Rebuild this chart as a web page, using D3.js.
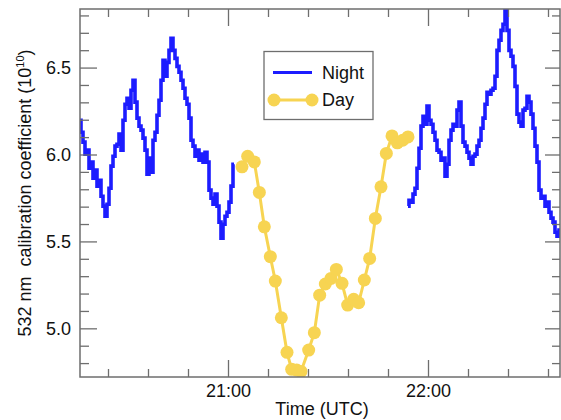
<!DOCTYPE html>
<html><head><meta charset="utf-8">
<script src="https://d3js.org/d3.v7.min.js"></script>
<style>
html,body{margin:0;padding:0;background:#fff;}
svg{display:block;font-family:"Liberation Sans",Arial,sans-serif;}
</style></head>
<body>
<script>
// Time in minutes after 20:00 UTC
const xDomain = [15.6, 159.6];
const yDomain = [4.72, 6.837];
const xMajorTicks = [60, 120];
const xMajorLabels = ["21:00", "22:00"];
const xMinorTicks = [24, 36, 48, 72, 84, 96, 108, 132, 144, 156];
const yMajorTicks = [5.0, 5.5, 6.0, 6.5];
const yMinorTicks = [4.8, 4.9, 5.1, 5.2, 5.3, 5.4, 5.6, 5.7, 5.8, 5.9, 6.1, 6.2, 6.3, 6.4, 6.6, 6.7, 6.8];

// Night series, segment 1 (sampled every 0.6 min from 15.6)
const night1Start = 15.6, nightStep = 0.6;
const night1Values = [6.197,6.128,6.071,6.002,6.025,5.921,5.956,5.864,5.910,5.818,5.852,5.760,5.703,5.645,5.714,5.806,5.933,5.990,6.048,6.059,6.117,6.025,6.197,6.289,6.324,6.266,6.370,6.427,6.301,6.209,6.163,6.140,6.094,6.025,5.887,5.979,5.898,6.082,6.128,6.226,6.312,6.427,6.542,6.450,6.530,6.599,6.668,6.599,6.553,6.507,6.473,6.427,6.381,6.324,6.289,6.209,6.082,6.048,5.990,6.025,5.967,6.002,5.956,6.013,5.956,5.795,5.749,5.714,5.772,5.703,5.611,5.519,5.599,5.645,5.668,5.726,5.818,5.944];
// Night series, segment 2 (sampled every 0.6 min from 114.0)
const night2Start = 114.0;
const night2Values = [5.703,5.737,5.726,5.772,5.806,5.921,6.036,6.163,6.220,6.174,6.278,6.197,6.174,6.128,6.082,6.025,6.013,5.967,5.979,5.875,5.944,6.082,6.140,6.174,6.163,6.255,6.301,6.163,6.071,6.048,6.013,5.979,5.944,5.990,6.002,6.048,6.082,6.151,6.209,6.289,6.358,6.347,6.370,6.381,6.450,6.599,6.657,6.714,6.749,6.835,6.714,6.599,6.565,6.507,6.392,6.232,6.186,6.163,6.255,6.266,6.335,6.301,6.232,6.151,6.048,5.956,5.795,5.749,5.760,5.703,5.726,5.668,5.634,5.611,5.553,5.530,5.565];

// Day series
const dayTimes = [64.2,65.9,67.9,69.4,70.9,72.7,74.2,76.0,77.7,79.1,80.6,81.9,84.2,85.9,87.5,89.2,90.9,92.5,94.2,95.9,97.7,99.2,100.9,102.5,104.2,105.9,107.5,109.2,110.8,112.4,114.0];
const dayValues = [5.929,5.990,5.957,5.782,5.584,5.412,5.272,5.061,4.862,4.764,4.760,4.752,4.875,4.975,5.191,5.255,5.287,5.339,5.259,5.134,5.167,5.147,5.278,5.402,5.632,5.814,6.006,6.107,6.067,6.082,6.101];

const seriesNames = ["Night", "Day"];
const nightColor = "#1c1cff", dayColor = "#f7d452", axisColor = "#6e6e6e";

const W = 561, H = 420;
const m = {left: 80, right: 560, top: 9, bottom: 377};

const svg = d3.select("body").append("svg").attr("width", W).attr("height", H);
const x = d3.scaleLinear().domain(xDomain).range([m.left, m.right]);
const y = d3.scaleLinear().domain(yDomain).range([m.bottom, m.top]);

svg.append("defs").append("clipPath").attr("id", "clip")
  .append("rect").attr("x", m.left).attr("y", m.top)
  .attr("width", m.right - m.left).attr("height", m.bottom - m.top);

const plot = svg.append("g").attr("clip-path", "url(#clip)");

const night1 = night1Values.map((v, i) => ({t: night1Start + i * nightStep, v}));
const night2 = night2Values.map((v, i) => ({t: night2Start + i * nightStep, v}));
const day = dayTimes.map((t, i) => ({t, v: dayValues[i]}));

const line = d3.line().x(d => x(d.t)).y(d => y(d.v));
const stepLine = d3.line().x(d => x(d.t)).y(d => y(d.v)).curve(d3.curveStep);

[night1, night2].forEach(seg => {
  plot.append("path").datum(seg).attr("d", stepLine)
    .attr("fill", "none").attr("stroke", nightColor)
    .attr("stroke-width", 3.6).attr("stroke-linejoin", "miter");
});

plot.append("path").datum(day).attr("d", line)
  .attr("fill", "none").attr("stroke", dayColor).attr("stroke-width", 3);
plot.selectAll("circle.day").data(day).join("circle").attr("class", "day")
  .attr("cx", d => x(d.t)).attr("cy", d => y(d.v)).attr("r", 6.5)
  .attr("fill", dayColor);

// Axes
function styleAxis(g) {
  g.select(".domain").remove();
  g.selectAll(".tick line").attr("stroke", axisColor).attr("stroke-width", 1.3);
  g.selectAll(".tick text").attr("fill", "#111").style("font-size", "18px")
    .style("font-family", '"Liberation Sans",Arial,sans-serif');
}
const fmtX = d => xMajorLabels[xMajorTicks.indexOf(d)];

const xb = svg.append("g").attr("transform", `translate(0,${m.bottom})`)
  .call(d3.axisBottom(x).tickValues(xMajorTicks).tickSize(-17).tickPadding(8).tickFormat(fmtX))
  .call(styleAxis);
xb.selectAll(".tick text").attr("y", 7);
svg.append("g").attr("transform", `translate(0,${m.bottom})`)
  .call(d3.axisBottom(x).tickValues(xMinorTicks).tickSize(-8).tickFormat(""))
  .call(styleAxis);
svg.append("g").attr("transform", `translate(0,${m.top})`)
  .call(d3.axisTop(x).tickValues(xMajorTicks).tickSize(-17).tickFormat(""))
  .call(styleAxis);
svg.append("g").attr("transform", `translate(0,${m.top})`)
  .call(d3.axisTop(x).tickValues(xMinorTicks).tickSize(-8).tickFormat(""))
  .call(styleAxis);

svg.append("g").attr("transform", `translate(${m.left},0)`)
  .call(d3.axisLeft(y).tickValues(yMajorTicks).tickSize(-17).tickPadding(9).tickFormat(d3.format(".1f")))
  .call(styleAxis);
svg.append("g").attr("transform", `translate(${m.left},0)`)
  .call(d3.axisLeft(y).tickValues(yMinorTicks).tickSize(-9).tickFormat(""))
  .call(styleAxis);
svg.append("g").attr("transform", `translate(${m.right},0)`)
  .call(d3.axisRight(y).tickValues(yMajorTicks).tickSize(-15).tickFormat(""))
  .call(styleAxis);
svg.append("g").attr("transform", `translate(${m.right},0)`)
  .call(d3.axisRight(y).tickValues(yMinorTicks).tickSize(-8).tickFormat(""))
  .call(styleAxis);

// Frame
svg.append("rect").attr("x", m.left).attr("y", m.top)
  .attr("width", m.right - m.left).attr("height", m.bottom - m.top)
  .attr("fill", "none").attr("stroke", axisColor).attr("stroke-width", 1.5);

// Axis titles
svg.append("text").attr("x", (m.left + m.right) / 2 + 2).attr("y", 415)
  .attr("text-anchor", "middle").attr("fill", "#111").style("font-size", "18px")
  .text("Time (UTC)");

const yl = svg.append("text")
  .attr("transform", `translate(31,${(m.top + m.bottom) / 2}) rotate(-90)`)
  .attr("text-anchor", "middle").attr("fill", "#111").style("font-size", "18px")
  .attr("xml:space", "preserve");
yl.append("tspan").text("532 nm\u00a0 calibration coefficient (10");
yl.append("tspan").attr("dy", -7).style("font-size", "11px").text("10");
yl.append("tspan").attr("dy", 7).text(")");

// Legend
const lg = svg.append("g");
lg.append("rect").attr("x", 264).attr("y", 51.5).attr("width", 109).attr("height", 68)
  .attr("fill", "#fff").attr("stroke", axisColor).attr("stroke-width", 1.3);
lg.append("line").attr("x1", 273).attr("x2", 312).attr("y1", 72.5).attr("y2", 72.5)
  .attr("stroke", nightColor).attr("stroke-width", 3);
lg.append("line").attr("x1", 274).attr("x2", 312).attr("y1", 100).attr("y2", 100)
  .attr("stroke", dayColor).attr("stroke-width", 3);
[274, 312].forEach(cx => lg.append("circle").attr("cx", cx).attr("cy", 100).attr("r", 6.5).attr("fill", dayColor));
lg.append("text").attr("x", 322).attr("y", 78.5).attr("fill", "#111").style("font-size", "18px").text(seriesNames[0]);
lg.append("text").attr("x", 322).attr("y", 106).attr("fill", "#111").style("font-size", "18px").text(seriesNames[1]);
</script>
</body></html>
